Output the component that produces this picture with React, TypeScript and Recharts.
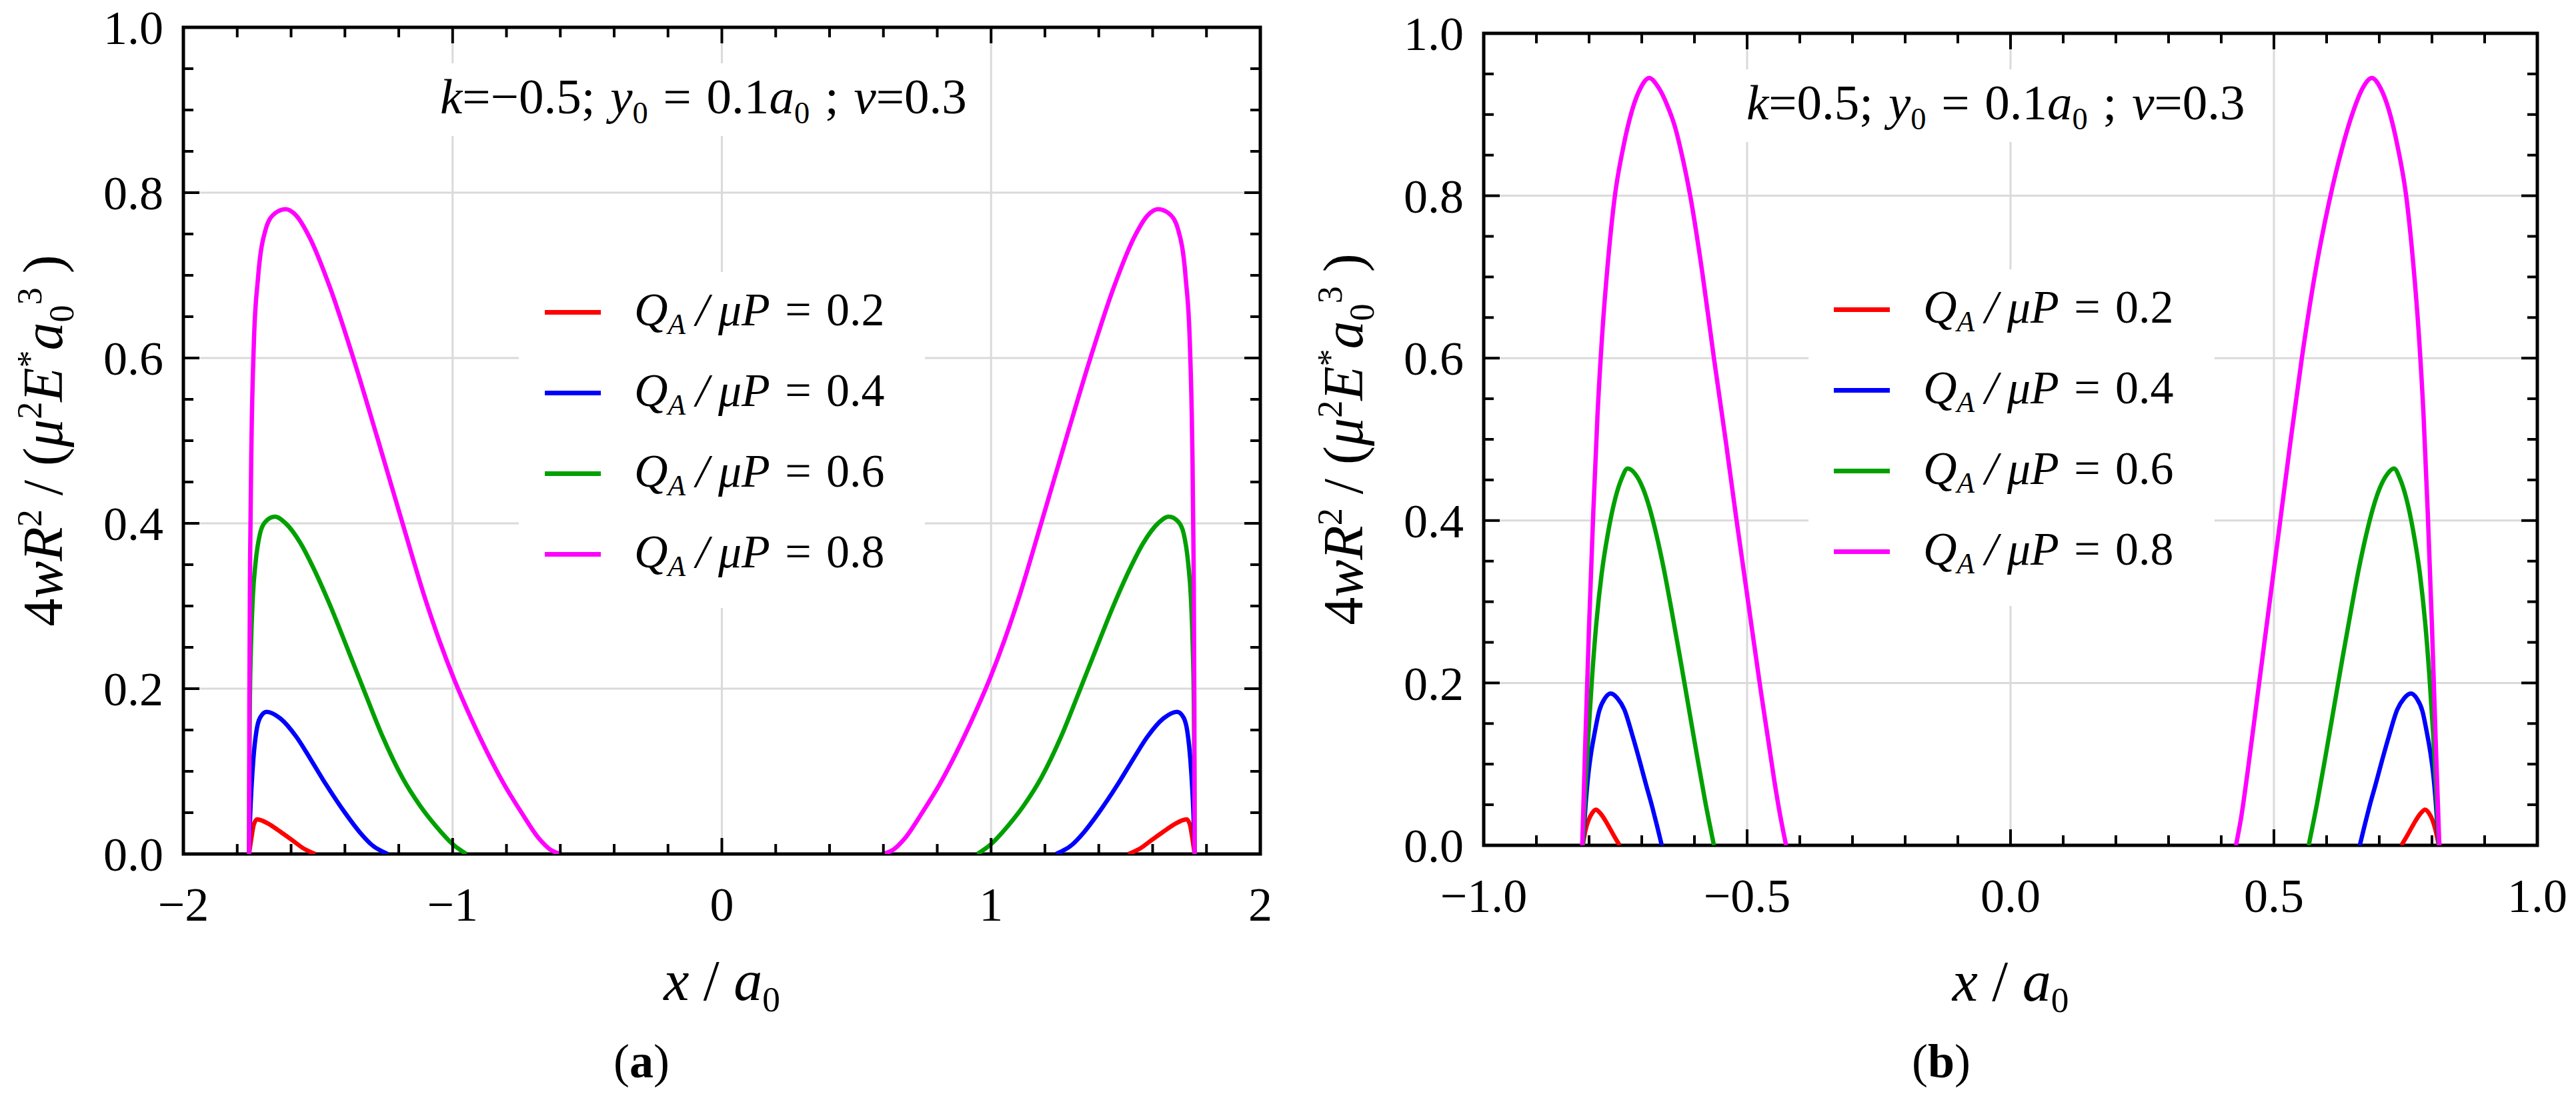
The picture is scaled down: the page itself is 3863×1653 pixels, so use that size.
import React from 'react';
import { LineChart, Line, XAxis, YAxis, ReferenceLine, ReferenceArea, Legend } from 'recharts';

// two panels of w(x) for different k

type Pt = [number, number];

const FONT = "'Liberation Serif', 'DejaVu Serif', Times, serif";
const RED = '#ff0000';
const BLUE = '#0000ff';
const GREEN = '#00a000';
const MAGENTA = '#ff00ff';
const GRID = '#dadada';

const Q_VALUES = ['0.2', '0.4', '0.6', '0.8'];

// ── panel (a): k = -0.5 ──────────────────────────────────────────────────────
const A_X_TICKS = [-2, -1.8, -1.6, -1.4, -1.2, -1, -0.8, -0.6, -0.4, -0.2, 0, 0.2, 0.4, 0.6, 0.8, 1, 1.2, 1.4, 1.6, 1.8, 2];
const A_X_GRID = [-1, 0, 1];

const A_RED_L: Pt[] = [[-1.756, 0], [-1.752, 0.009], [-1.746, 0.022], [-1.738, 0.036], [-1.726, 0.042], [-1.705, 0.04], [-1.676, 0.035], [-1.64, 0.027], [-1.597, 0.017], [-1.55, 0.006], [-1.51, 0]];
const A_RED_R: Pt[] = [[1.51, 0], [1.55, 0.006], [1.597, 0.017], [1.64, 0.027], [1.676, 0.035], [1.705, 0.04], [1.726, 0.042], [1.738, 0.036], [1.746, 0.022], [1.752, 0.009], [1.756, 0]];

const A_BLUE_L: Pt[] = [[-1.756, 0], [-1.752, 0.045], [-1.747, 0.08], [-1.74, 0.115], [-1.729, 0.148], [-1.715, 0.165], [-1.691, 0.172], [-1.64, 0.164], [-1.581, 0.142], [-1.53, 0.116], [-1.47, 0.084], [-1.4, 0.05], [-1.344, 0.026], [-1.3, 0.011], [-1.241, 0]];
const A_BLUE_R: Pt[] = [[1.241, 0], [1.3, 0.011], [1.344, 0.026], [1.4, 0.05], [1.47, 0.084], [1.53, 0.116], [1.581, 0.142], [1.64, 0.164], [1.691, 0.172], [1.715, 0.165], [1.729, 0.148], [1.74, 0.115], [1.747, 0.08], [1.752, 0.045], [1.756, 0]];

const A_GREEN_L: Pt[] = [[-1.756, 0], [-1.755, 0.09], [-1.753, 0.182], [-1.749, 0.25], [-1.742, 0.311], [-1.732, 0.352], [-1.715, 0.388], [-1.695, 0.402], [-1.66, 0.408], [-1.62, 0.4], [-1.565, 0.376], [-1.52, 0.348], [-1.454, 0.3], [-1.39, 0.248], [-1.328, 0.197], [-1.26, 0.142], [-1.186, 0.092], [-1.12, 0.058], [-1.06, 0.033], [-1.0, 0.012], [-0.949, 0]];
const A_GREEN_R: Pt[] = [[0.949, 0], [1.0, 0.012], [1.06, 0.033], [1.12, 0.058], [1.186, 0.092], [1.26, 0.142], [1.328, 0.197], [1.39, 0.248], [1.454, 0.3], [1.52, 0.348], [1.565, 0.376], [1.62, 0.4], [1.66, 0.408], [1.695, 0.402], [1.715, 0.388], [1.732, 0.352], [1.742, 0.311], [1.749, 0.25], [1.753, 0.182], [1.755, 0.09], [1.756, 0]];

const A_MAG_L: Pt[] = [[-1.756, 0], [-1.755, 0.18], [-1.752, 0.36], [-1.747, 0.5], [-1.738, 0.62], [-1.723, 0.696], [-1.695, 0.755], [-1.66, 0.775], [-1.62, 0.78], [-1.58, 0.772], [-1.533, 0.747], [-1.454, 0.684], [-1.368, 0.599], [-1.281, 0.505], [-1.186, 0.4], [-1.107, 0.314], [-1.05, 0.259], [-0.989, 0.207], [-0.93, 0.163], [-0.87, 0.122], [-0.81, 0.085], [-0.744, 0.05], [-0.68, 0.019], [-0.64, 0.006], [-0.6, 0]];
const A_MAG_R: Pt[] = [[0.6, 0], [0.64, 0.006], [0.68, 0.019], [0.744, 0.05], [0.81, 0.085], [0.87, 0.122], [0.93, 0.163], [0.989, 0.207], [1.05, 0.259], [1.107, 0.314], [1.186, 0.4], [1.281, 0.505], [1.368, 0.599], [1.454, 0.684], [1.533, 0.747], [1.58, 0.772], [1.62, 0.78], [1.66, 0.775], [1.695, 0.755], [1.723, 0.696], [1.738, 0.62], [1.747, 0.5], [1.752, 0.36], [1.755, 0.18], [1.756, 0]];

// ── panel (b): k = 0.5 ───────────────────────────────────────────────────────
const B_X_TICKS = [-1, -0.9, -0.8, -0.7, -0.6, -0.5, -0.4, -0.3, -0.2, -0.1, 0, 0.1, 0.2, 0.3, 0.4, 0.5, 0.6, 0.7, 0.8, 0.9, 1];
const B_X_GRID = [-0.5, 0, 0.5];

const B_RED_L: Pt[] = [[-0.812, 0], [-0.807, 0.018], [-0.801, 0.031], [-0.794, 0.04], [-0.787, 0.044], [-0.778, 0.039], [-0.765, 0.026], [-0.753, 0.012], [-0.742, 0]];
const B_RED_R: Pt[] = [[0.742, 0], [0.753, 0.012], [0.765, 0.026], [0.778, 0.039], [0.787, 0.044], [0.794, 0.04], [0.801, 0.031], [0.807, 0.018], [0.813, 0]];

const B_BLUE_L: Pt[] = [[-0.812, 0], [-0.806, 0.055], [-0.801, 0.09], [-0.797, 0.11], [-0.789, 0.14], [-0.781, 0.165], [-0.77, 0.181], [-0.759, 0.187], [-0.746, 0.181], [-0.733, 0.167], [-0.718, 0.136], [-0.704, 0.104], [-0.692, 0.075], [-0.68, 0.047], [-0.671, 0.024], [-0.662, 0]];
const B_BLUE_R: Pt[] = [[0.663, 0], [0.672, 0.024], [0.681, 0.047], [0.693, 0.075], [0.705, 0.104], [0.719, 0.136], [0.734, 0.167], [0.747, 0.181], [0.76, 0.187], [0.771, 0.181], [0.782, 0.165], [0.79, 0.14], [0.798, 0.11], [0.802, 0.09], [0.807, 0.055], [0.813, 0]];

const B_GREEN_L: Pt[] = [[-0.812, 0], [-0.807, 0.07], [-0.801, 0.14], [-0.794, 0.21], [-0.786, 0.275], [-0.776, 0.335], [-0.764, 0.385], [-0.75, 0.428], [-0.738, 0.452], [-0.727, 0.464], [-0.712, 0.457], [-0.698, 0.44], [-0.685, 0.415], [-0.672, 0.382], [-0.658, 0.34], [-0.643, 0.288], [-0.627, 0.23], [-0.611, 0.17], [-0.595, 0.11], [-0.579, 0.052], [-0.563, 0]];
const B_GREEN_R: Pt[] = [[0.566, 0], [0.582, 0.052], [0.598, 0.11], [0.614, 0.17], [0.63, 0.23], [0.646, 0.288], [0.661, 0.34], [0.675, 0.382], [0.688, 0.415], [0.701, 0.44], [0.715, 0.457], [0.728, 0.464], [0.739, 0.452], [0.751, 0.428], [0.765, 0.385], [0.777, 0.335], [0.787, 0.275], [0.795, 0.21], [0.802, 0.14], [0.808, 0.07], [0.813, 0]];

const B_MAG_L: Pt[] = [[-0.813, 0], [-0.807, 0.13], [-0.8, 0.27], [-0.792, 0.41], [-0.784, 0.53], [-0.775, 0.63], [-0.764, 0.72], [-0.751, 0.8], [-0.735, 0.86], [-0.718, 0.906], [-0.702, 0.933], [-0.686, 0.945], [-0.668, 0.933], [-0.652, 0.912], [-0.637, 0.885], [-0.622, 0.845], [-0.608, 0.8], [-0.585, 0.705], [-0.563, 0.6], [-0.541, 0.5], [-0.52, 0.4], [-0.497, 0.295], [-0.474, 0.19], [-0.46, 0.13], [-0.448, 0.078], [-0.437, 0.036], [-0.426, 0]];
const B_MAG_R: Pt[] = [[0.428, 0], [0.438, 0.035], [0.45, 0.09], [0.47, 0.19], [0.491, 0.295], [0.512, 0.4], [0.532, 0.5], [0.553, 0.6], [0.577, 0.7], [0.604, 0.79], [0.628, 0.855], [0.65, 0.903], [0.668, 0.932], [0.686, 0.945], [0.702, 0.933], [0.718, 0.906], [0.735, 0.86], [0.751, 0.8], [0.764, 0.72], [0.775, 0.63], [0.784, 0.53], [0.792, 0.41], [0.8, 0.27], [0.807, 0.13], [0.814, 0]];

// ── shared y axis ────────────────────────────────────────────────────────────
const Y_TICKS = [0, 0.05, 0.1, 0.15, 0.2, 0.25, 0.3, 0.35, 0.4, 0.45, 0.5, 0.55, 0.6, 0.65, 0.7, 0.75, 0.8, 0.85, 0.9, 0.95, 1];
const Y_GRID = [0.2, 0.4, 0.6, 0.8];

const PAGE_W = 3863;
const PAGE_H = 1653;

interface Curve { q: string; color: string; left: Pt[]; right: Pt[] }

const rows = (pts: Pt[]) => pts.map(([x, y]) => ({ x, y }));
const near = (v: number, step: number) => Math.abs(v / step - Math.round(v / step)) < 1e-6;
const minus = (s: string) => s.replace('-', '\u2212');

const supStyle: React.CSSProperties = { fontSize: '0.62em', position: 'relative', top: '-0.6em', verticalAlign: 'baseline' };
const subStyle: React.CSSProperties = { fontSize: '0.62em', position: 'relative', top: '0.32em', verticalAlign: 'baseline' };

// html top for a given text baseline (Liberation Serif, line-height 1)
const topFor = (baseline: number, size: number) => baseline - 0.8375 * size;

function QLabel({ q }: { q: string }) {
  return (
    <span>
      <i>Q</i><span style={subStyle}><i>A</i></span>
      <i style={{ margin: '0 0.2em 0 0.22em' }}>/</i>
      <i>μP</i>
      <span style={{ margin: '0 0.32em' }}>=</span>
      {q}
    </span>
  );
}

function LegendBox({ curves, width, height, padLeft }: { curves: Curve[]; width: number; height: number; padLeft: number }) {
  return (
    <div style={{ width, height, background: '#fff', boxSizing: 'border-box', paddingLeft: padLeft }}>
      {curves.map(c => (
        <div key={c.q} style={{ display: 'flex', alignItems: 'center', height: 121 }}>
          <div style={{ width: 84, height: 6.5, background: c.color, marginRight: 50 }} />
          <span style={{ fontFamily: FONT, fontSize: 70, lineHeight: '70px', whiteSpace: 'nowrap', color: '#000' }}>
            <QLabel q={c.q} />
          </span>
        </div>
      ))}
    </div>
  );
}

interface PanelProps {
  left: number;
  width: number;
  plotLeft: number;
  plotTop: number;
  plotRight: number;
  plotBottom: number;
  xDomain: [number, number];
  xTicks: number[];
  xGrid: number[];
  xStep: number;
  xFmt: (v: number) => string;
  curves: Curve[];
  kText: string;
  annLeft: number;
  annBaseline: number;
  legendLeft: number;
  legendTop: number;
  legendW: number;
  legendH: number;
  legendPad: number;
  xTitleBaseline: number;
  caption: string;
  captionX: number;
}

function Panel(p: PanelProps) {
  const plotW = p.plotRight - p.plotLeft;
  const plotH = p.plotBottom - p.plotTop;
  const yAxisW = p.plotLeft - p.left;

  const xTick = (props: any) => {
    const { x, y, payload } = props;
    const v = payload.value as number;
    const major = near(v, p.xStep);
    const len = major ? 24 : 15;
    return (
      <g>
        <line x1={x} y1={y} x2={x} y2={y - len} stroke="#000" strokeWidth={4} />
        <line x1={x} y1={y - plotH} x2={x} y2={y - plotH + len} stroke="#000" strokeWidth={4} />
        {major && (
          <text x={x} y={y + 100} textAnchor="middle" fontSize={72} fontFamily={FONT} fill="#000">{p.xFmt(v)}</text>
        )}
      </g>
    );
  };

  const yTick = (props: any) => {
    const { x, y, payload } = props;
    const v = payload.value as number;
    const major = near(v, 0.2);
    const len = major ? 24 : 15;
    return (
      <g>
        <line x1={x} y1={y} x2={x + len} y2={y} stroke="#000" strokeWidth={4} />
        <line x1={x + plotW} y1={y} x2={x + plotW - len} y2={y} stroke="#000" strokeWidth={4} />
        {major && (
          <text x={x - 30} y={y} dy="0.35em" textAnchor="end" fontSize={72} fontFamily={FONT} fill="#000">{v.toFixed(1)}</text>
        )}
      </g>
    );
  };

  const annSize = 75;
  const annPadY = 12;

  return (
    <div style={{ position: 'absolute', left: p.left, top: 0, width: p.width, height: PAGE_H, fontFamily: FONT }}>
      <LineChart
        width={p.width}
        height={PAGE_H}
        margin={{ top: p.plotTop, right: p.left + p.width - p.plotRight, bottom: 0, left: 0 }}
        style={{ fontFamily: FONT }}
      >
        <XAxis
          dataKey="x"
          type="number"
          domain={p.xDomain}
          ticks={p.xTicks}
          interval={0}
          allowDataOverflow
          height={PAGE_H - p.plotBottom}
          axisLine={false}
          tickLine={false}
          tickSize={0}
          tickMargin={0}
          tick={xTick}
        />
        <YAxis
          type="number"
          domain={[0, 1]}
          ticks={Y_TICKS}
          interval={0}
          allowDataOverflow
          width={yAxisW}
          axisLine={false}
          tickLine={false}
          tickSize={0}
          tickMargin={0}
          tick={yTick}
        />
        {p.xGrid.map(v => (
          <ReferenceLine key={`gx${v}`} x={v} stroke={GRID} strokeWidth={3} />
        ))}
        {Y_GRID.map(v => (
          <ReferenceLine key={`gy${v}`} y={v} stroke={GRID} strokeWidth={3} />
        ))}
        {p.curves.flatMap(c => [
          <Line key={`${c.q}L`} data={rows(c.left)} dataKey="y" name={`Q ${c.q}`} type="monotone" stroke={c.color}
            strokeWidth={6.5} dot={false} activeDot={false} isAnimationActive={false} legendType="none" />,
          <Line key={`${c.q}R`} data={rows(c.right)} dataKey="y" name={`Q ${c.q} `} type="monotone" stroke={c.color}
            strokeWidth={6.5} dot={false} activeDot={false} isAnimationActive={false} legendType="none" />,
        ])}
        <ReferenceArea x1={p.xDomain[0]} x2={p.xDomain[1]} y1={0} y2={1} fill="none" fillOpacity={0} stroke="#000" strokeWidth={5} />
        <Legend
          layout="vertical"
          align="center"
          verticalAlign="middle"
          content={() => <LegendBox curves={p.curves} width={p.legendW} height={p.legendH} padLeft={p.legendPad} />}
          wrapperStyle={{ left: p.legendLeft - p.left, top: p.legendTop, width: p.legendW, height: p.legendH }}
        />
      </LineChart>

      {/* parameter note */}
      <div style={{
        position: 'absolute', left: p.annLeft - p.left - 20, top: topFor(p.annBaseline, annSize) - annPadY,
        padding: `${annPadY}px 20px`, background: '#fff', fontFamily: FONT, fontSize: annSize,
        lineHeight: `${annSize}px`, whiteSpace: 'nowrap', color: '#000', wordSpacing: 4,
      }}>
        <i>k</i>={p.kText}; <i>y</i><span style={subStyle}>0</span> = 0.1<i>a</i><span style={subStyle}>0</span> ; <i>ν</i>=0.3
      </div>

      {/* y title */}
      <div style={{
        position: 'absolute', left: p.plotLeft - p.left - 205, top: (p.plotTop + p.plotBottom) / 2,
        transform: 'translate(-50%, -50%) rotate(-90deg)', fontFamily: FONT, fontSize: 84,
        lineHeight: '84px', whiteSpace: 'nowrap', color: '#000',
      }}>
        4<i>wR</i><span style={supStyle}>2</span> / (<i>μ</i><span style={supStyle}>2</span><i>E</i><span style={supStyle}>*</span><i>a</i><span style={subStyle}>0</span><span style={supStyle}>3</span> )
      </div>

      {/* x title */}
      <div style={{
        position: 'absolute', left: (p.plotLeft + p.plotRight) / 2 - p.left, top: topFor(p.xTitleBaseline, 86),
        transform: 'translateX(-50%)', fontFamily: FONT, fontSize: 86, lineHeight: '86px',
        whiteSpace: 'nowrap', color: '#000',
      }}>
        <i>x</i> / <i>a</i><span style={subStyle}>0</span>
      </div>

      {/* caption */}
      <div style={{
        position: 'absolute', left: p.captionX - p.left, top: topFor(1616, 72),
        transform: 'translateX(-50%)', fontFamily: FONT, fontSize: 72, lineHeight: '72px',
        whiteSpace: 'nowrap', color: '#000',
      }}>
        (<b>{p.caption}</b>)
      </div>
    </div>
  );
}

const A_CURVES: Curve[] = [
  { q: Q_VALUES[0], color: RED, left: A_RED_L, right: A_RED_R },
  { q: Q_VALUES[1], color: BLUE, left: A_BLUE_L, right: A_BLUE_R },
  { q: Q_VALUES[2], color: GREEN, left: A_GREEN_L, right: A_GREEN_R },
  { q: Q_VALUES[3], color: MAGENTA, left: A_MAG_L, right: A_MAG_R },
];

const B_CURVES: Curve[] = [
  { q: Q_VALUES[0], color: RED, left: B_RED_L, right: B_RED_R },
  { q: Q_VALUES[1], color: BLUE, left: B_BLUE_L, right: B_BLUE_R },
  { q: Q_VALUES[2], color: GREEN, left: B_GREEN_L, right: B_GREEN_R },
  { q: Q_VALUES[3], color: MAGENTA, left: B_MAG_L, right: B_MAG_R },
];

export default function App() {
  return (
    <div style={{ position: 'absolute', left: 0, top: 0, width: PAGE_W, height: PAGE_H, background: '#fff', overflow: 'hidden' }}>
      <Panel
        left={0}
        width={1930}
        plotLeft={275}
        plotTop={41}
        plotRight={1890}
        plotBottom={1281}
        xDomain={[-2, 2]}
        xTicks={A_X_TICKS}
        xGrid={A_X_GRID}
        xStep={1}
        xFmt={v => minus(String(v))}
        curves={A_CURVES}
        kText={'\u22120.5'}
        annLeft={660}
        annBaseline={170}
        legendLeft={778}
        legendTop={408}
        legendW={609}
        legendH={504}
        legendPad={39}
        xTitleBaseline={1500}
        caption="a"
        captionX={962}
      />
      <Panel
        left={1930}
        width={1933}
        plotLeft={2225}
        plotTop={50}
        plotRight={3805}
        plotBottom={1268}
        xDomain={[-1, 1]}
        xTicks={B_X_TICKS}
        xGrid={B_X_GRID}
        xStep={0.5}
        xFmt={v => minus(v.toFixed(1))}
        curves={B_CURVES}
        kText="0.5"
        annLeft={2619}
        annBaseline={179}
        legendLeft={2712}
        legendTop={404}
        legendW={609}
        legendH={505}
        legendPad={38}
        xTitleBaseline={1501}
        caption="b"
        captionX={2911}
      />
    </div>
  );
}
